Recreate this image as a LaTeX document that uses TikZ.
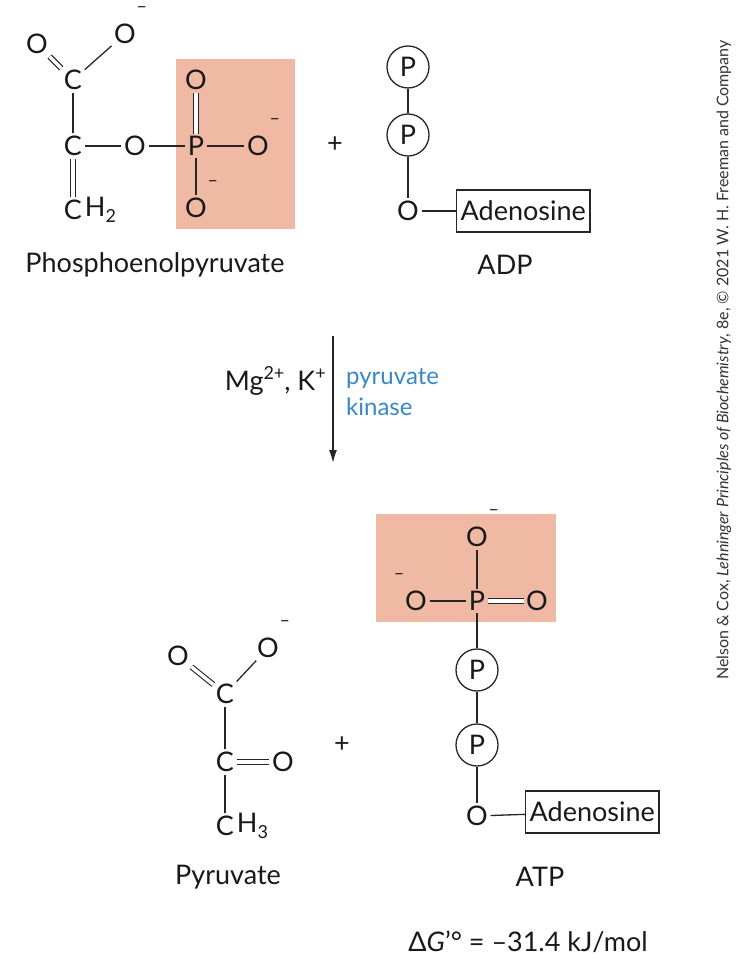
\documentclass[tikz,border=0pt]{standalone}
\usepackage{fontspec}
\usetikzlibrary{arrows.meta}
\setmainfont{Lato}
\definecolor{salmon}{HTML}{EFB9A3}
\definecolor{kblue}{HTML}{3A87C8}
\newcommand{\mysup}[1]{\raisebox{0.75ex}{\fontsize{18}{18}\selectfont #1}}
\newcommand{\mysub}[1]{\raisebox{-0.45ex}{\fontsize{18}{18}\selectfont #1}}
\newcommand{\mymin}{\raisebox{0.9ex}{\fontsize{18}{18}\selectfont –}}
\begin{document}
\begin{tikzpicture}[x=1pt,y=-1pt,
  every node/.style={font=\fontsize{27}{30}\selectfont, text=black!90},
  atom/.style={inner sep=2.5pt},
  bond/.style={line width=1.3pt, black!85},
  dbl/.style={line width=1.1pt, double, double distance=3.5pt, black!85},
  pc/.style={circle, draw=black!85, line width=1.3pt, minimum size=42pt, inner sep=0pt},
  box/.style={draw=black!85, line width=1.3pt, inner sep=4pt, minimum height=42pt},
  lab/.style={inner sep=0pt}]
\useasboundingbox (0,0) rectangle (740,965);
% ---------- highlight boxes
\fill[salmon] (176,59) rectangle (295,229);
\fill[salmon] (376,514) rectangle (556,622);
% ---------- Phosphoenolpyruvate
\node[atom] (o1) at (37,44) {O};
\node[atom] (o2) at (125,34) {O};
\node[lab,anchor=south west] at ([xshift=-2pt,yshift=-4pt]o2.north east) {\mymin};
\node[atom] (c1) at (73,80) {C};
\node[atom] (c2) at (73,146) {C};
\node[atom] (o3) at (135,146) {O};
\node[atom] (p1) at (196,146) {P};
\node[atom] (o4) at (258,146) {O};
\node[lab,anchor=south west] at ([xshift=-2pt,yshift=-4pt]o4.north east) {\mymin};
\node[atom] (o5) at (196,80) {O};
\node[atom] (o6) at (196,208) {O};
\node[lab,anchor=south west] at ([xshift=-2pt,yshift=-4pt]o6.north east) {\mymin};
\node[atom] (c3) at (73,210) {C};
\node[lab,anchor=west] at (c3.east) {H\mysub{2}};
\draw[dbl] (o1) -- (c1);
\draw[bond] (o2) -- (c1);
\draw[bond] (c1) -- (c2);
\draw[dbl] (c2) -- (c3);
\draw[bond] (c2) -- (o3);
\draw[bond] (o3) -- (p1);
\draw[bond] (p1) -- (o4);
\draw[dbl] (p1) -- (o5);
\draw[bond] (p1) -- (o6);
\node (pepl) at (155,265) {Phosphoenolpyruvate};
\node (plus1) at (335,145) {+};
% ---------- ADP
\node[pc] (ap1) at (408,67) {P};
\node[pc] (ap2) at (408,135) {P};
\node[atom] (ao) at (408,211) {O};
\node[box,anchor=west] (aad) at (456,211) {Adenosine};
\draw[bond] (ap1) -- (ap2);
\draw[bond] (ap2) -- (ao);
\draw[bond] (ao) -- (aad);
\node (adpl) at (505,265) {ADP};
% ---------- arrow
\coordinate (arS) at (333,336);
\coordinate (arE) at (333,463);
\draw[line width=1.3pt, black!85, -{Latex[length=13pt,width=8pt]}] (arS) -- (arE);
\node[anchor=east, inner sep=0pt] (mg) at (326,381) {Mg\mysup{2+}, K\mysup{+}};
\node[anchor=west, inner sep=0pt, align=left, text=kblue, font=\fontsize{24}{31}\selectfont] (pk) at (346,392) {pyruvate\\kinase};
% ---------- Pyruvate
\node[atom] (q1) at (178,656) {O};
\node[atom] (q2) at (268,648) {O};
\node[lab,anchor=south west] at ([xshift=-2pt,yshift=-4pt]q2.north east) {\mymin};
\node[atom] (qc1) at (225,694) {C};
\node[atom] (qc2) at (225,762) {C};
\node[atom] (q3) at (283,762) {O};
\node[atom] (qc3) at (225,826) {C};
\node[lab,anchor=west] at (qc3.east) {H\mysub{3}};
\draw[dbl] (q1) -- (qc1);
\draw[bond] (q2) -- (qc1);
\draw[bond] (qc1) -- (qc2);
\draw[dbl] (qc2) -- (q3);
\draw[bond] (qc2) -- (qc3);
\node (pyrl) at (228,877) {Pyruvate};
\node (plus2) at (342,745) {+};
% ---------- ATP
\node[atom] (t1) at (477,537) {O};
\node[lab,anchor=south west] at ([xshift=-2pt,yshift=-4pt]t1.north east) {\mymin};
\node[atom] (t2) at (416,601) {O};
\node[lab,anchor=south east] at ([xshift=2pt,yshift=-4pt]t2.north west) {\mymin};
\node[atom] (tp) at (477,601) {P};
\node[atom] (t3) at (537,601) {O};
\node[pc] (tp1) at (477,670) {P};
\node[pc] (tp2) at (477,745) {P};
\node[atom] (to) at (477,816) {O};
\node[box,anchor=west] (tad) at (525,812) {Adenosine};
\draw[bond] (t1) -- (tp);
\draw[bond] (t2) -- (tp);
\draw[dbl] (tp) -- (t3);
\draw[bond] (tp) -- (tp1);
\draw[bond] (tp1) -- (tp2);
\draw[bond] (tp2) -- (to);
\draw[bond] (to) -- (tad);
\node (atpl) at (540,877) {ATP};
\node (dg) at (528,942) {Δ\textit{G}'° = –31.4 kJ/mol};
% ---------- credit
\node[rotate=90, font=\fontsize{16}{18}\selectfont, text=black!80] (cred) at (724,360)
 {Nelson \& Cox, \textit{Lehninger Principles of Biochemistry}, 8e, © 2021 W. H. Freeman and Company};
\end{tikzpicture}
\end{document}
